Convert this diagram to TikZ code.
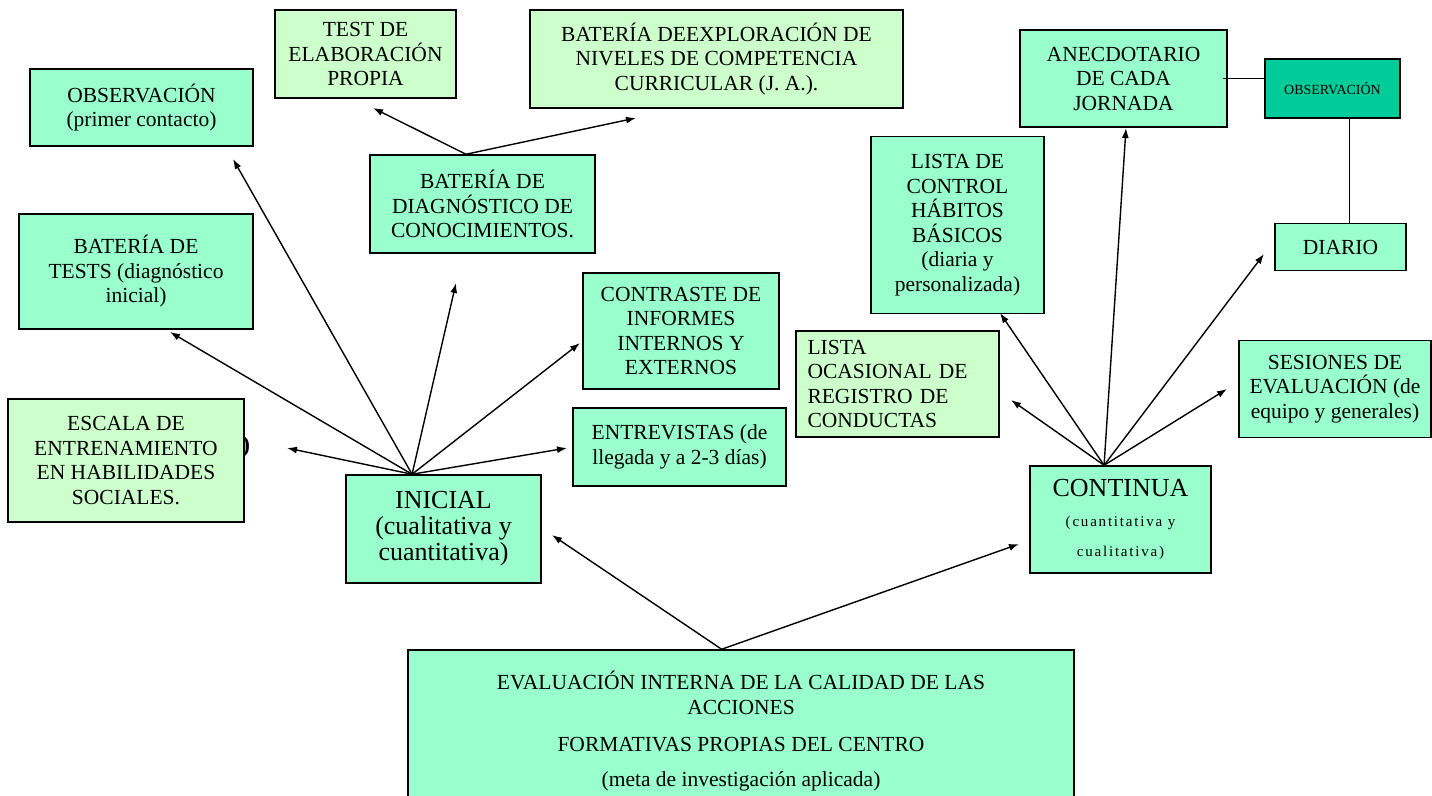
\documentclass[tikz,border=0pt]{standalone}
\usepackage{fontspec}
\setmainfont{Liberation Serif}
\usetikzlibrary{arrows.meta,calc}
\definecolor{verde}{HTML}{99FFCC}
\definecolor{verdeclaro}{HTML}{CCFFCC}
\definecolor{verdeosc}{HTML}{00CC99}
\tikzset{caja/.style={draw=black, fill=verde, line width=1.5pt, align=center,
inner sep=2pt, font=\fontsize{21.5}{24.5}\selectfont},
clara/.style={caja, fill=verdeclaro},
flecha/.style={-{Latex[length=10pt,width=7pt]}, line width=1.4pt}}

\begin{document}
\begin{tikzpicture}[x=1pt,y=-1pt]
	\useasboundingbox (0,0) rectangle (1432,795);
	\node[font=\fontsize{24}{24}\selectfont\bfseries] (escpar) at (246,447) {)};
	\node[caja, minimum width=223, minimum height=77] (obsini) at (141.5,107.5) {OBSERVACIÓN\\(primer contacto)};
	\node[clara, minimum width=181, minimum height=88] (testprop) at (365.5,54) {TEST DE\\ELABORACIÓN\\PROPIA};
	\node[caja, minimum width=234, minimum height=115] (battest) at (136,271.5) {BATERÍA DE\\TESTS (diagnóstico\\inicial)};
	\node[caja, minimum width=225, minimum height=98] (batdiag) at (482.5,204) {BATERÍA DE\\DIAGNÓSTICO DE\\CONOCIMIENTOS.};
	\node[clara, minimum width=373, minimum height=98] (batexp) at (716.5,59) {BATERÍA DEEXPLORACIÓN DE\\NIVELES DE COMPETENCIA\\CURRICULAR (J. A.).};
	\node[caja, minimum width=196, minimum height=116] (contr) at (681,331) {CONTRASTE DE\\INFORMES\\INTERNOS Y\\EXTERNOS};
	\node[caja, minimum width=213, minimum height=78] (entrev) at (679.5,447) {ENTREVISTAS (de\\llegada y a 2-3 días)};
	\node[clara, minimum width=236, minimum height=123] (escala) at (126,460.5) {ESCALA DE\\ENTRENAMIENTO\\EN HABILIDADES\\SOCIALES.};
	\node[caja, minimum width=195, minimum height=108, font=\fontsize{26}{26}\selectfont] (inicial) at (443.5,529) {INICIAL\\(cualitativa y\\cuantitativa)};
	\node[caja, minimum width=666, minimum height=162] (evalu) at (741,731) {EVALUACIÓN INTERNA DE LA CALIDAD DE LAS\\ACCIONES\\[13pt]FORMATIVAS PROPIAS DEL CENTRO\\[10pt](meta de investigación aplicada)};
	\node[caja, minimum width=181, minimum height=107, font=\fontsize{26}{30}\selectfont] (continua) at (1120.5,519.5) {CONTINUA\\{\fontsize{15}{29}\selectfont\addfontfeatures{LetterSpace=12}(cuantitativa y}\\{\fontsize{15}{29}\selectfont\addfontfeatures{LetterSpace=12}cualitativa)}};
	\node[caja, minimum width=173, minimum height=177] (listctl) at (957.5,225) {LISTA DE\\CONTROL\\HÁBITOS\\BÁSICOS\\(diaria y\\personalizada)};
	\node[caja, minimum width=207, minimum height=97] (anec) at (1123.5,78.5) {ANECDOTARIO\\DE CADA\\JORNADA};
	\node[caja, fill=verdeosc, minimum width=135, minimum height=59, font=\fontsize{14}{16}\selectfont] (obsdia) at (1332.5,88.5) {OBSERVACIÓN};
	\node[caja, minimum width=131, minimum height=47] (diario) at (1340.5,247) {DIARIO};
	\node[clara, align=left, minimum width=203, minimum height=106, text width=180] (listoc) at (897.5,384) {LISTA\\OCASIONAL DE\\REGISTRO DE\\CONDUCTAS};
	\node[caja, minimum width=192, minimum height=97] (sesion) at (1335,389) {SESIONES DE\\EVALUACIÓN (de\\equipo y generales)};

	\coordinate (iniorg) at ($(inicial.north west)!0.34!(inicial.north east)$);
	\coordinate (diagorg) at ($(batdiag.north west)!0.427!(batdiag.north east)$);
	\coordinate (evorg) at ($(evalu.north west)!0.471!(evalu.north east)$);
	\coordinate (contorg) at ($(continua.north west)!0.41!(continua.north east)$);
	\coordinate (t-obsini) at (233,159);
	\coordinate (t-battest) at (170,332);
	\coordinate (t-escala) at (287,448);
	\coordinate (t-batdiag) at (456,283);
	\coordinate (t-contr) at (580,343);
	\coordinate (t-entrev) at (567,448);
	\coordinate (t-testprop) at (373,108);
	\coordinate (t-batexp) at (636,118);
	\coordinate (t-inicial) at (552,535);
	\coordinate (t-continua) at (1019,544);
	\coordinate (t-listctl) at (1000,313);
	\coordinate (t-anec) at (1126,128);
	\coordinate (t-diario) at (1264,254);
	\coordinate (t-listoc) at (1011,400);
	\coordinate (t-sesion) at (1227,389);

	\foreach \t in {obsini,battest,escala,batdiag,contr,entrev}
		\draw[flecha] (iniorg) -- (t-\t);
	\foreach \t in {testprop,batexp}
		\draw[flecha] (diagorg) -- (t-\t);
	\foreach \t in {inicial,continua}
		\draw[flecha] (evorg) -- (t-\t);
	\foreach \t in {listctl,anec,diario,listoc,sesion}
		\draw[flecha] (contorg) -- (t-\t);
	\draw[line width=1.4pt] ([xshift=-5pt]anec.east) -- (anec.east -| obsdia.west);
	\draw[line width=1.4pt] ([xshift=17pt]obsdia.south) -- ([xshift=17pt]obsdia.south |- diario.north);
\end{tikzpicture}
\end{document}
